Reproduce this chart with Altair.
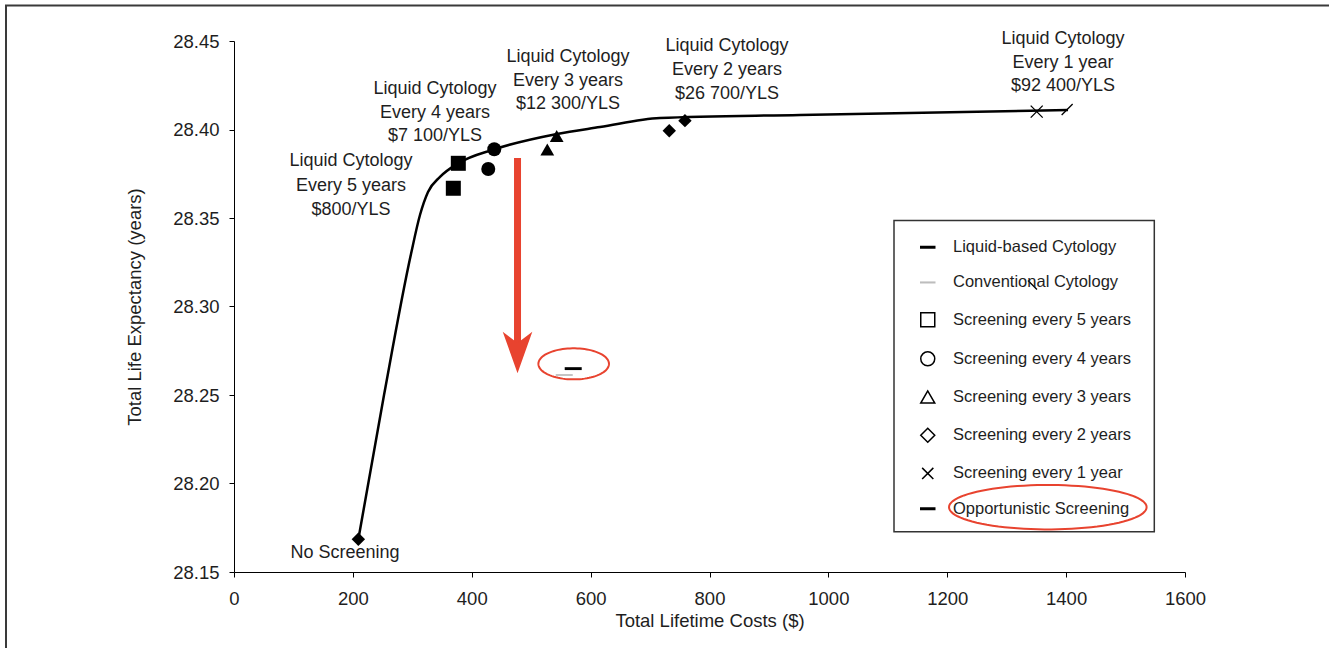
import altair as alt
import pandas as pd
import numpy as np

FONT = "Liberation Sans"
TXT = "#1e1e1e"
RED = "#e8432f"

# ---------------- data ----------------
strategy = ["5 years", "4 years", "3 years", "2 years", "1 year"]
liquid_cost = [377.4, 437.9, 542.9, 758.7, 1401.7]
liquid_le = [28.3809, 28.3888, 28.3963, 28.4050, 28.4113]
conv_cost = [369.0, 427.8, 527.1, 732.3, 1350.5]
conv_le = [28.3668, 28.3777, 28.3887, 28.3993, 28.4101]
none_cost = [209.2]
none_le = [28.1685]
opp_cost = [570.7, 555.6]          # liquid-based, conventional
opp_le = [28.2649, 28.2613]

curve_cost = [209.2, 252.4, 297.8, 312.9, 326.4, 346.6, 377.4, 437.9,
              543.4, 615.8, 716.7, 952.3, 1403.2]
curve_le = [28.1685, 28.2500, 28.3297, 28.3517, 28.3647, 28.3732, 28.3809,
            28.3888, 28.3975, 28.4014, 28.4065, 28.4082, 28.4110]

label_text = ["Liquid Cytology", "Every 5 years", "$800/YLS",
              "Liquid Cytology", "Every 4 years", "$7 100/YLS",
              "Liquid Cytology", "Every 3 years", "$12 300/YLS",
              "Liquid Cytology", "Every 2 years", "$26 700/YLS",
              "Liquid Cytology", "Every 1 year", "$92 400/YLS",
              "No Screening"]
label_cost = [196.8] * 3 + [338.2] * 3 + [561.9] * 3 + [829.4] * 3 + [1394.7] * 3 + [186.8]
label_le = [28.3822, 28.3681, 28.3545,
            28.4229, 28.4093, 28.3963,
            28.4410, 28.4274, 28.4144,
            28.4472, 28.4336, 28.4201,
            28.4511, 28.4376, 28.4246,
            28.1607]

legend_items = ["Liquid-based Cytology", "Conventional Cytology",
                "Screening every 5 years", "Screening every 4 years",
                "Screening every 3 years", "Screening every 2 years",
                "Screening every 1 year", "Opportunistic Screening"]

# annotation (arrow + ellipses)
arrow_cost = [477.0]
arrow_top = [28.3839]
arrow_tip = [28.2623]
ell_cost = [571.5, 1369.2]
ell_le = [28.2676, 28.1866]
stray_cost = [1343.4]
stray_le = [28.3121]

# ---------------- shapes ----------------
DASH = "M-1,-0.11H1V0.11H-1Z"
THIN_DASH = "M-1,-0.04H1V0.04H-1Z"
XPATH = "M-1,-1L1,1M-1,1L1,-1"
XLEG = "M-0.8,-0.8L0.8,0.8M-0.8,0.8L0.8,-0.8"
SLASH = "M-1,1L1,-1"
BACKSLASH = "M-1,-1L1,1"
ARROWHEAD = "M0,0L-1,-2.81L0,-2.05L1,-2.81Z"


def ellipse_path(ratio, n=90):
    t = np.linspace(0, 2 * np.pi, n, endpoint=False)
    pts = ["%.4f,%.4f" % (np.cos(a), ratio * np.sin(a)) for a in t]
    return "M" + "L".join(pts) + "Z"


# ---------------- scales / axes ----------------
xaxis = alt.Axis(values=list(range(0, 1601, 200)), format="d", grid=False,
                 title="Total Lifetime Costs ($)", tickSize=5, labelFlush=False,
                 labelPadding=12, titlePadding=4, domainColor="black", tickColor="black",
                 labelFont=FONT, titleFont=FONT, labelFontSize=18.5, titleFontSize=18.5,
                 titleFontWeight="normal", labelColor=TXT, titleColor=TXT)
yaxis = alt.Axis(values=[28.15, 28.20, 28.25, 28.30, 28.35, 28.40, 28.45], format=".2f",
                 grid=False, title="Total Life Expectancy (years)", tickSize=5,
                 labelFlush=False, labelPadding=10, titlePadding=28,
                 domainColor="black", tickColor="black",
                 labelFont=FONT, titleFont=FONT, labelFontSize=18.5, titleFontSize=18.5,
                 titleFontWeight="normal", labelColor=TXT, titleColor=TXT)
X = alt.X("cost:Q", scale=alt.Scale(domain=[0, 1600], nice=False, zero=False), axis=xaxis)
Y = alt.Y("le:Q", scale=alt.Scale(domain=[28.15, 28.45], nice=False, zero=False), axis=yaxis)

one = pd.DataFrame({"a": [0]})

# outer frame (left and top edges visible in the picture)
frame_left = alt.Chart(one).mark_rule(color="#3a3a3a", strokeWidth=2).encode(
    x=alt.value(-228), y=alt.value(-36), y2=alt.value(620))
frame_top = alt.Chart(one).mark_rule(color="#3a3a3a", strokeWidth=2).encode(
    x=alt.value(-229), x2=alt.value(1110), y=alt.value(-35.5))

legend_box = alt.Chart(one).mark_rect(fill="white", stroke="#333333", strokeWidth=1.5).encode(
    x=alt.value(660), x2=alt.value(920.3), y=alt.value(179.5), y2=alt.value(490.7))

curve = alt.Chart(pd.DataFrame({"cost": curve_cost, "le": curve_le})).mark_line(
    color="black", strokeWidth=2.5, interpolate="monotone").encode(x=X, y=Y)

# filled markers
fshape = ["square", "circle", "triangle-up", "diamond"]
fsize = [225, 196, 190, 180]
rows = []
for i in range(4):
    rows.append({"cost": liquid_cost[i], "le": liquid_le[i], "shp": fshape[i], "sz": fsize[i], "col": "black"})
    rows.append({"cost": conv_cost[i], "le": conv_le[i], "shp": fshape[i], "sz": fsize[i], "col": "black"})
rows.append({"cost": none_cost[0], "le": none_le[0], "shp": "diamond", "sz": 180, "col": "black"})
rows.append({"cost": opp_cost[1], "le": opp_le[1], "shp": "M-1,-0.12H1V0.12H-1Z", "sz": 289, "col": "#c4c4c4"})
rows.append({"cost": opp_cost[0], "le": opp_le[0], "shp": "M-1,-0.17H1V0.17H-1Z", "sz": 289, "col": "black"})
filled = alt.Chart(pd.DataFrame(rows)).mark_point(filled=True, opacity=1, strokeWidth=0).encode(
    x=X, y=Y,
    shape=alt.Shape("shp:N", scale=None, legend=None),
    size=alt.Size("sz:Q", scale=None, legend=None),
    color=alt.Color("col:N", scale=None, legend=None))

# stroked markers (1-year strategies)
srows = [
    {"cost": liquid_cost[4], "le": liquid_le[4], "shp": SLASH, "sz": 121},
    {"cost": conv_cost[4], "le": conv_le[4], "shp": XPATH, "sz": 144},
    {"cost": stray_cost[0], "le": stray_le[0], "shp": BACKSLASH, "sz": 81},
]
stroked = alt.Chart(pd.DataFrame(srows)).mark_point(filled=False, color="black", strokeWidth=1.3, opacity=1).encode(
    x=X, y=Y,
    shape=alt.Shape("shp:N", scale=None, legend=None),
    size=alt.Size("sz:Q", scale=None, legend=None))

texts = alt.Chart(pd.DataFrame({"cost": label_cost, "le": label_le, "t": label_text})).mark_text(
    font=FONT, fontSize=18, color=TXT, align="center", baseline="middle").encode(
    x=X, y=Y, text="t:N")

# red arrow
shaft = alt.Chart(pd.DataFrame({"cost": arrow_cost, "le": arrow_top, "le2": [28.276]})).mark_rule(
    color=RED, strokeWidth=7).encode(x=X, y=Y, y2="le2:Q")
head = alt.Chart(pd.DataFrame({"cost": arrow_cost, "le": arrow_tip})).mark_point(
    filled=True, color=RED, shape=ARROWHEAD, size=876, opacity=1, strokeWidth=0).encode(x=X, y=Y)

# red ellipses
ell1 = alt.Chart(pd.DataFrame({"cost": ell_cost[:1], "le": ell_le[:1]})).mark_point(
    filled=False, color=RED, strokeWidth=2, shape=ellipse_path(0.44), size=4984, opacity=1).encode(x=X, y=Y)
ell2 = alt.Chart(pd.DataFrame({"cost": ell_cost[1:], "le": ell_le[1:]})).mark_point(
    filled=False, color=RED, strokeWidth=2, shape=ellipse_path(0.225), size=39045, opacity=1).encode(x=X, y=Y)

# legend (symbols only; the marks themselves are clipped away)
legend_shapes = [DASH, THIN_DASH, "square", "circle", "triangle-up", "diamond", XLEG, DASH]
legend_colors = ["black", "#bdbdbd", "black", "black", "black", "black", "black", "black"]
leg = alt.Legend(title=None, orient="none", legendX=685.5, legendY=198, padding=0,
                 labelFont=FONT, labelFontSize=16.5, labelColor=TXT, symbolSize=196,
                 symbolStrokeWidth=1.5, rowPadding=18.2, labelOffset=17, labelLimit=400)
dummy = alt.Chart(pd.DataFrame({"item": legend_items})).mark_point(
    filled=False, clip=True, strokeWidth=1.5, opacity=1).encode(
    x=alt.value(-400), y=alt.value(-400),
    shape=alt.Shape("item:N", scale=alt.Scale(domain=legend_items, range=legend_shapes), legend=leg),
    color=alt.Color("item:N", scale=alt.Scale(domain=legend_items, range=legend_colors), legend=leg))

chart = alt.layer(frame_left, frame_top, legend_box, curve, filled, stroked, texts,
                  shaft, head, ell1, ell2, dummy).resolve_scale(
    color="independent", shape="independent", size="independent").properties(
    width=951, height=531,
    padding={"left": 234, "top": 41, "right": 144, "bottom": 76},
    autosize=alt.AutoSizeParams(type="none"),
    background="white").configure_view(stroke=None)

chart.save("out.html", embed_options={"renderer": "svg", "actions": False})
